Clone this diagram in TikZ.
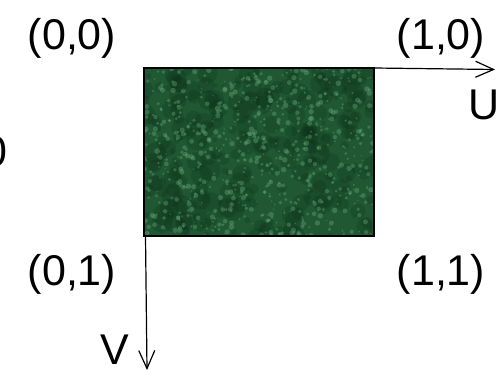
\documentclass[tikz,border=0pt]{standalone}
\usepackage{fontspec}
\setmainfont{Liberation Sans}
\usetikzlibrary{arrows.meta}
\definecolor{texbase}{RGB}{32,88,52}
\definecolor{texlight}{RGB}{110,180,130}
\definecolor{texdark}{RGB}{10,45,22}
\tikzset{
  lbl/.style={font=\fontsize{43}{50}\selectfont, inner sep=0pt, anchor=base},
  axis/.style={line width=1.2pt, -{Straight Barb[length=18pt,width=16pt,line width=1.2pt]}},
}
\begin{document}
\begin{tikzpicture}[x=1pt,y=-1pt]
\useasboundingbox (0,0) rectangle (504,371);
\node[fill=texbase, minimum width=230pt, minimum height=168pt, inner sep=0pt, outer sep=0pt, anchor=north west] (tex) at (144,68) {};
\begin{scope}
\clip (tex.south west) rectangle (tex.north east);
\pgfmathsetseed{7}
\foreach \i in {1,...,260} {
  \pgfmathsetmacro\xx{144+230*rnd}
  \pgfmathsetmacro\yy{68+168*rnd}
  \pgfmathsetmacro\rr{2+9*rnd}
  \fill[texdark, opacity=0.22] (\xx,\yy) circle (\rr pt);
}
\foreach \i in {1,...,700} {
  \pgfmathsetmacro\xx{144+230*rnd}
  \pgfmathsetmacro\yy{68+168*rnd}
  \pgfmathsetmacro\rr{0.6+2.2*rnd}
  \fill[texlight, opacity=0.35] (\xx,\yy) circle (\rr pt);
}
\end{scope}
\draw[line width=2pt] (tex.south west) rectangle (tex.north east);
\coordinate (uend) at (495,69.5);
\coordinate (vend) at (147,370);
\draw[axis] (tex.north east) -- (uend);
\draw[axis] ([xshift=1.5pt]tex.south west) -- (vend);
\node[lbl] (p00) at (72,50) {(0,0)};
\node[lbl] (p10) at (441,50) {(1,0)};
\node[lbl] (p01) at (72,286) {(0,1)};
\node[lbl] (p11) at (441,286) {(1,1)};
\node[lbl] (lu) at (484,120) {U};
\node[lbl] (lv) at (115,365) {V};
\node[lbl, anchor=base east] (lz) at (8,167) {0};
\end{tikzpicture}
\end{document}
